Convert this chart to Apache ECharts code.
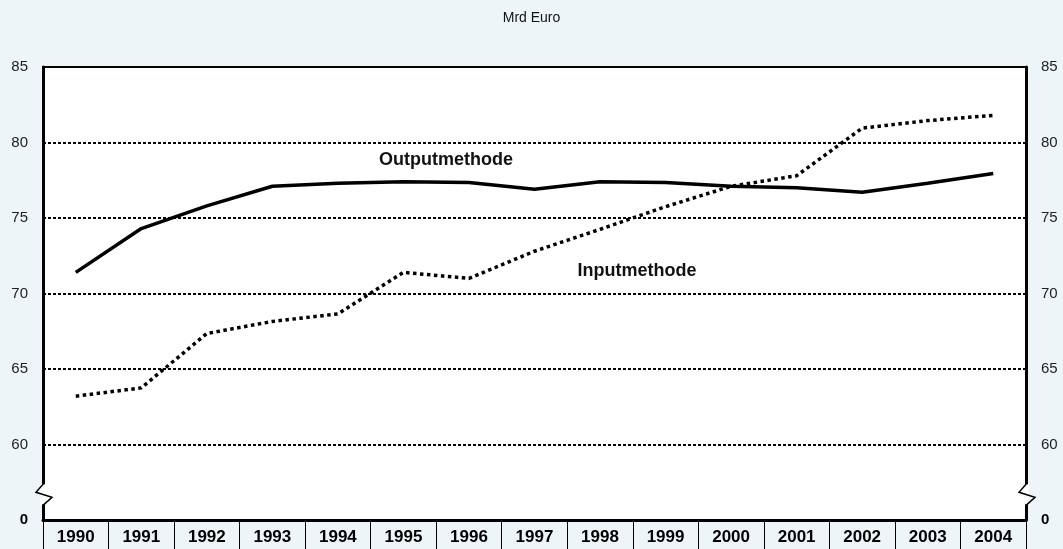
<!DOCTYPE html>
<html>
<head>
<meta charset="utf-8">
<script src="https://cdn.jsdelivr.net/npm/echarts@6/dist/echarts.min.js"></script>
<style>
  html, body { margin: 0; padding: 0; background: #edf5f8; }
  #chart { width: 1063px; height: 549px; }
</style>
</head>
<body>
<div id="chart"></div>
<script>
// Daten (Mrd Euro)
const years = ['1990', '1991', '1992', '1993', '1994', '1995', '1996', '1997',
  '1998', '1999', '2000', '2001', '2002', '2003', '2004']
const outputmethode = [71.4, 74.3, 75.8, 77.1, 77.3, 77.4, 77.35, 76.9, 77.4, 77.35, 77.1, 77.0, 76.7, 77.3, 77.95]
const inputmethode = [63.2, 63.75, 67.35, 68.15, 68.65, 71.4, 71.0, 72.8, 74.25, 75.75, 77.1, 77.8, 80.95, 81.45, 81.8]
// Achse: 55 steht für den Bruch, wird als "0" beschriftet
const yMin = 55
const yMax = 85
const yStep = 5
const breakValue = 56.7

const chart = echarts.init(document.getElementById('chart'))

const yLabel = (v) => v === yMin ? '{b|0}' : String(v)

const yAxisBase = {
  type: 'value',
  min: yMin,
  max: yMax,
  interval: yStep,
  axisLine: { show: true, lineStyle: { color: '#000', width: 3 } },
  axisTick: { show: false },
  splitLine: { show: false },
  axisLabel: {
    color: '#222',
    fontFamily: 'Liberation Sans, Arial, sans-serif',
    fontSize: 15,
    margin: 15,
    formatter: yLabel,
    rich: { b: { fontWeight: 'bold', fontSize: 15, color: '#000' } }
  }
}

const option = {
  backgroundColor: '#edf5f8',
  animation: false,
  title: {
    text: 'Mrd Euro',
    left: 'center',
    top: 6,
    textStyle: { fontFamily: 'Liberation Sans, Arial, sans-serif', fontSize: 14, fontWeight: 'normal', color: '#111' }
  },
  grid: {
    left: 43, right: 37, top: 67, bottom: 29,
    show: true, backgroundColor: '#fff', borderColor: '#000', borderWidth: 2
  },
  xAxis: {
    type: 'category',
    data: years,
    boundaryGap: true,
    axisLine: { lineStyle: { color: '#000', width: 3 } },
    axisTick: { show: true, length: 29, lineStyle: { color: '#000', width: 1 } },
    axisLabel: {
      color: '#000', fontWeight: 'bold', fontSize: 17, margin: 9,
      fontFamily: 'Liberation Sans, Arial, sans-serif'
    }
  },
  yAxis: [
    Object.assign({}, yAxisBase, {
      position: 'left',
      splitLine: {
        show: true,
        lineStyle: { color: '#000', width: 2, type: [3, 2] }
      }
    }),
    Object.assign({}, yAxisBase, { position: 'right' })
  ],
  series: [
    {
      name: 'Outputmethode',
      type: 'line',
      data: outputmethode,
      symbol: 'none',
      lineStyle: { color: '#000', width: 3.5 },
      z: 3
    },
    {
      name: 'Inputmethode',
      type: 'line',
      data: inputmethode,
      symbol: 'none',
      lineStyle: { color: '#000', width: 3.5, type: [3.5, 3.5] },
      z: 3
    }
  ]
}

chart.setOption(option)

// Beschriftungen und Achsenbruch
const grid = chart.getModel().getComponent('grid').coordinateSystem.getRect()
const yb = chart.convertToPixel({ yAxisIndex: 0 }, breakValue)
const zigzag = (x) => [
  {
    type: 'rect',
    shape: { x: x - 3, y: yb - 10, width: 6, height: 20 },
    style: { fill: '#fff' },
    z: 100
  },
  {
    type: 'polyline',
    shape: { points: [[x, yb - 12], [x, yb - 10], [x - 7, yb - 2], [x + 9, yb + 3], [x, yb + 11], [x, yb + 13]] },
    style: { stroke: '#000', lineWidth: 1.5, fill: null },
    z: 101
  }
]

chart.setOption({
  graphic: [
    ...zigzag(grid.x),
    ...zigzag(grid.x + grid.width),
    {
      type: 'text', x: 446, y: 160,
      style: {
        text: 'Outputmethode', align: 'center', verticalAlign: 'middle',
        font: 'bold 18px "Liberation Sans", Arial, sans-serif', fill: '#111'
      },
      z: 50
    },
    {
      type: 'text', x: 637, y: 271,
      style: {
        text: 'Inputmethode', align: 'center', verticalAlign: 'middle',
        font: 'bold 18px "Liberation Sans", Arial, sans-serif', fill: '#111'
      },
      z: 50
    }
  ]
})
</script>
</body>
</html>
